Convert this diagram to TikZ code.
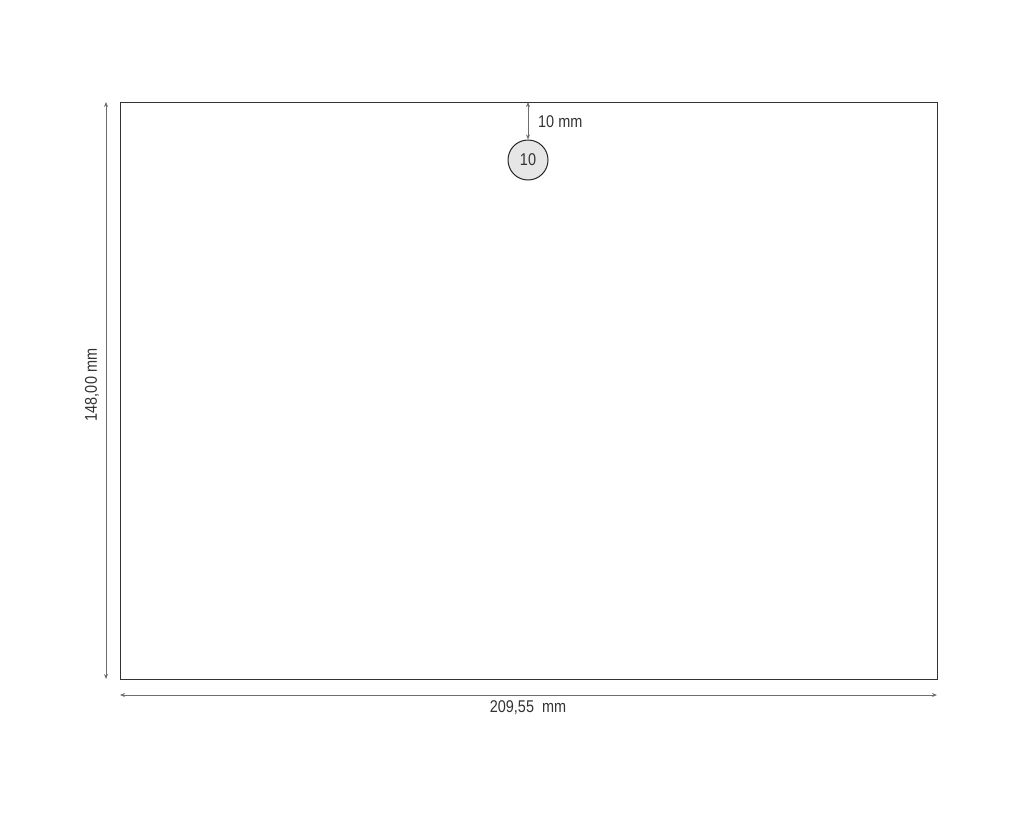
\documentclass[tikz,border=0pt]{standalone}
\usepackage{fontspec}
\setmainfont{Liberation Sans}[FakeStretch=0.85]
\usetikzlibrary{arrows.meta}
\definecolor{dimgray}{RGB}{110,110,110}
\definecolor{circfill}{RGB}{230,230,230}
\begin{document}
\begin{tikzpicture}[x=1pt,y=-1pt,
  dimline/.style={draw=dimgray,line width=0.8pt,{Stealth[length=5pt,width=4pt]}-{Stealth[length=5pt,width=4pt]}},
  lbl/.style={font=\fontsize{17}{19}\selectfont,text=black!80,inner sep=0pt}]
\useasboundingbox (0,0) rectangle (1024,819);
\node[draw=black!80,line width=1.2pt,minimum width=817pt,minimum height=577pt,inner sep=0pt,anchor=north west] (sheet) at (120,102) {};
\node[circle,draw=black!85,fill=circfill,line width=1pt,minimum size=40pt,inner sep=0pt,lbl] (hole) at (528,160) {10};
\coordinate (topa) at (528,102);
\draw[dimline] (topa) -- (hole.north);
\node[lbl,anchor=west] (tl) at (538,122) {10 mm};
\coordinate (la) at (106,102);
\coordinate (lb) at (106,679);
\draw[dimline] (la) -- (lb);
\node[lbl,rotate=90] (ll) at (92,385) {148,00 mm};
\coordinate (ba) at (120,695);
\coordinate (bb) at (937,695);
\draw[dimline] (ba) -- (bb);
\node[lbl] (bl) at (528,708) {209,55\ \ mm};
\end{tikzpicture}
\end{document}
